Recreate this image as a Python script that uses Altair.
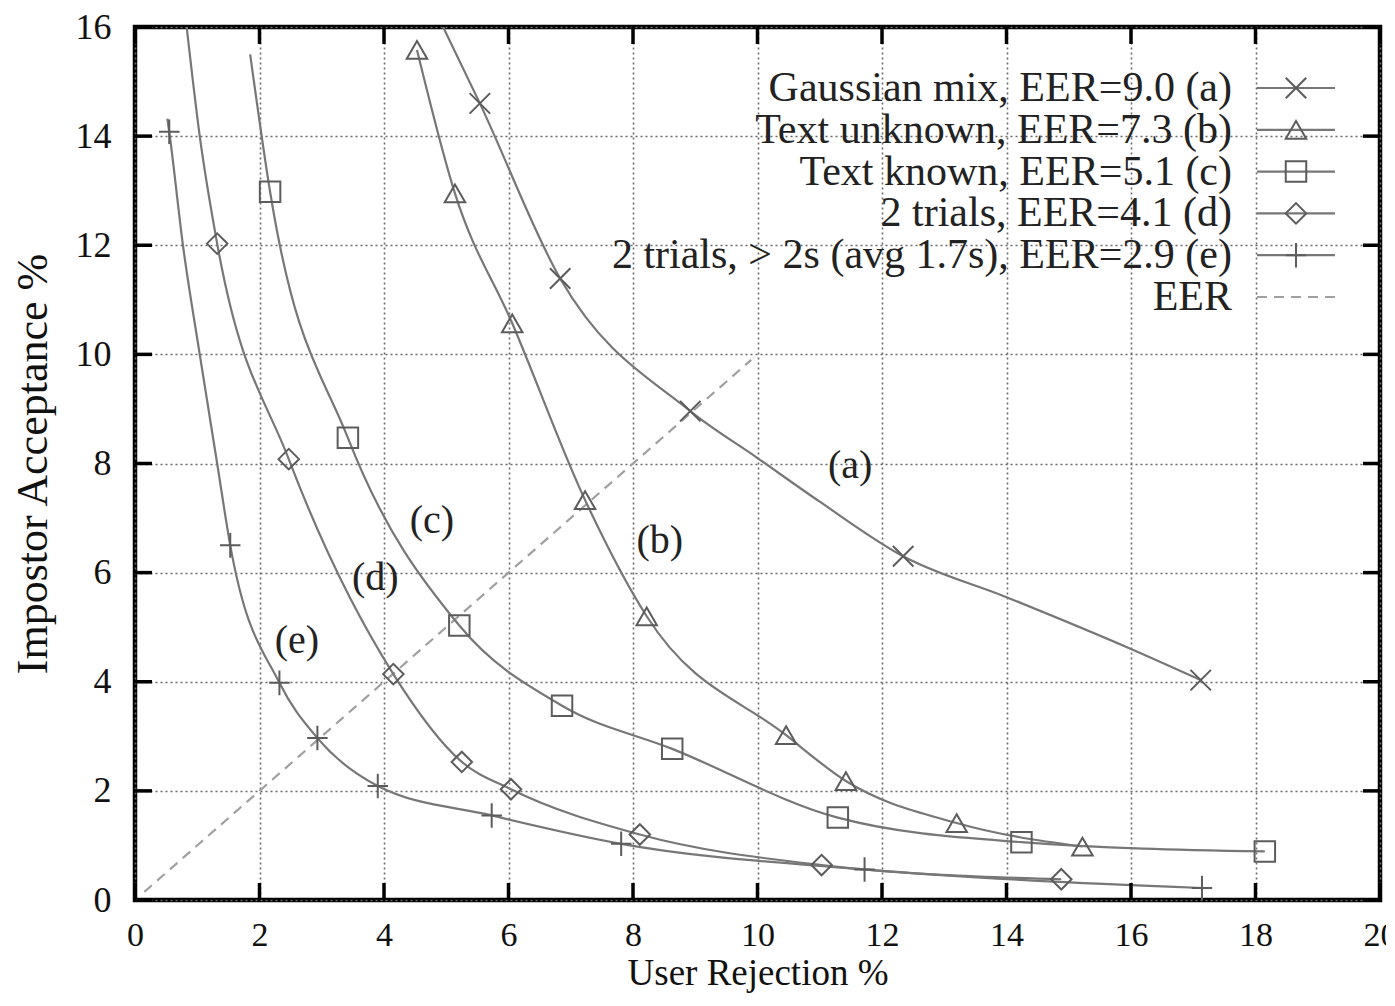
import altair as alt
import pandas as pd

# ---------------- data ----------------
x_ticks = [0, 2, 4, 6, 8, 10, 12, 14, 16, 18, 20]
y_ticks = [0, 2, 4, 6, 8, 10, 12, 14, 16]

# (a) Gaussian mix – markers and curve
a_x = [5.54, 6.83, 8.92, 12.34, 17.12]
a_y = [14.60, 11.39, 8.96, 6.30, 4.03]
a_lx = [4.95, 5.54, 6.83, 8.92, 10.00, 11.00, 12.34, 14.00, 16.00, 17.12]
a_ly = [16.00, 14.60, 11.39, 8.96, 8.10, 7.30, 6.30, 5.55, 4.60, 4.03]

# (b) Text unknown
b_x = [4.53, 5.14, 6.06, 7.23, 8.22, 10.46, 11.42, 13.20, 15.22]
b_y = [15.58, 12.95, 10.57, 7.33, 5.20, 3.02, 2.18, 1.41, 0.98]
b_lx = b_x
b_ly = b_y

# (c) Text known
c_x = [2.17, 3.42, 5.21, 6.86, 8.63, 11.29, 14.24, 18.15]
c_y = [12.98, 8.47, 5.03, 3.56, 2.77, 1.51, 1.06, 0.89]
c_lx = [1.85, 2.17, 3.42, 5.21, 6.86, 8.63, 11.29, 14.24, 18.15]
c_ly = [15.50, 12.98, 8.47, 5.03, 3.56, 2.77, 1.51, 1.06, 0.89]

# (d) 2 trials
d_x = [1.32, 2.47, 4.15, 5.25, 6.04, 8.11, 11.03, 14.88]
d_y = [12.03, 8.08, 4.14, 2.53, 2.03, 1.20, 0.64, 0.38]
d_lx = [0.83, 1.04, 1.32, 2.47, 4.15, 5.25, 6.04, 8.11, 11.03, 14.88]
d_ly = [16.00, 14.00, 12.03, 8.08, 4.14, 2.53, 2.03, 1.20, 0.64, 0.38]

# (e) 2 trials, > 2s
e_x = [0.55, 1.53, 2.32, 2.93, 3.90, 5.73, 7.81, 11.72, 17.14]
e_y = [14.08, 6.50, 3.98, 2.97, 2.09, 1.55, 1.03, 0.56, 0.22]
e_lx = [0.52, 0.55, 0.77, 1.04, 1.32, 1.53, 2.32, 2.93, 3.90, 5.73, 7.81, 11.72, 17.14]
e_ly = [14.32, 14.08, 12.00, 10.00, 8.00, 6.50, 3.98, 2.97, 2.09, 1.55, 1.03, 0.56, 0.22]

# EER diagonal
eer_x = [0.15, 9.90]
eer_y = [0.15, 9.90]

series_ids = ["a", "b", "c", "d", "e"]
legend_labels = [
    "Gaussian mix, EER=9.0 (a)",
    "Text unknown, EER=7.3 (b)",
    "Text known, EER=5.1 (c)",
    "2 trials, EER=4.1 (d)",
    "2 trials, > 2s (avg 1.7s), EER=2.9 (e)",
    "EER",
]
annot_text = ["(a)", "(b)", "(c)", "(d)", "(e)"]
annot_x = [11.49, 8.43, 4.77, 3.86, 2.60]
annot_y = [7.95, 6.58, 6.95, 5.90, 4.75]

# ---------------- styling ----------------
W, H = 1245, 873
XMAX, YMAX = 20, 16
FONT = "Liberation Serif"
LINE_COL = "#777777"
MARK_COL = "#5c5c5c"
EER_COL = "#a0a0a0"

SHAPES = {
    "a": "M-1,-1L1,1M-1,1L1,-1",          # x cross
    "b": "triangle-up",
    "c": "square",
    "d": "diamond",
    "e": "M-1,0L1,0M0,-1.2L0,1.2",        # plus
}

xs = alt.Scale(domain=[0, XMAX], nice=False, zero=False)
ys = alt.Scale(domain=[0, YMAX], nice=False, zero=False)
common_axis = dict(format="d", grid=True, ticks=False, domain=False,
                   labelFont=FONT, titleFont=FONT,
                   labelColor="#111111", titleColor="#111111", titleFontWeight="normal",
                   labelFlush=False, labelOverlap=False,
                   gridColor="#6a6a6a", gridDash=[2, 3], gridWidth=1.6)
xaxis = alt.Axis(values=x_ticks, title="User Rejection %", titleFontSize=37,
                 labelFontSize=34, labelPadding=18, titlePadding=3, **common_axis)
yaxis = alt.Axis(values=y_ticks, title="Impostor Acceptance %", titleFontSize=44,
                 labelFontSize=36, labelPadding=24, titlePadding=20, **common_axis)


def X(f):
    return alt.X(f, type="quantitative", scale=xs, axis=xaxis)


def Y(f):
    return alt.Y(f, type="quantitative", scale=ys, axis=yaxis)


# ---------------- tables ----------------
line_rows = []
for sid, lx, ly in zip(series_ids, [a_lx, b_lx, c_lx, d_lx, e_lx], [a_ly, b_ly, c_ly, d_ly, e_ly]):
    for i, (xv, yv) in enumerate(zip(lx, ly)):
        line_rows.append({"x": xv, "y": yv, "s": sid, "o": i})
lines_df = pd.DataFrame(line_rows)

pt_rows = []
for sid, px, py in zip(series_ids, [a_x, b_x, c_x, d_x, e_x], [a_y, b_y, c_y, d_y, e_y]):
    for xv, yv in zip(px, py):
        pt_rows.append({"x": xv, "y": yv, "s": sid, "shape": SHAPES[sid]})
pts_df = pd.DataFrame(pt_rows)

eer_df = pd.DataFrame({"x": eer_x, "y": eer_y})
annot_df = pd.DataFrame({"x": annot_x, "y": annot_y, "t": annot_text})


# legend placed in plot coordinates (converted from pixel layout)
def px2x(p):
    return p / W * XMAX


def px2y(p):
    return YMAX - p / H * YMAX


leg_top, leg_step = 61, 41.8
leg_rows = []
for i, lab in enumerate(legend_labels):
    yy = px2y(leg_top + i * leg_step)
    leg_rows.append({
        "t": lab, "y": yy,
        "xt": px2x(W - 148), "x1": px2x(W - 123), "x2": px2x(W - 45), "xm": px2x(W - 84),
        "shape": SHAPES[series_ids[i]] if i < 5 else "",
        "kind": "series" if i < 5 else "eer",
    })
leg_df = pd.DataFrame(leg_rows)

xt_df = pd.DataFrame({"x": x_ticks})
yt_df = pd.DataFrame({"y": y_ticks})

# ---------------- layers ----------------
eer_layer = alt.Chart(eer_df).mark_line(color=EER_COL, strokeWidth=2.2,
                                         strokeDash=[10, 7], clip=True).encode(
    x=X("x"), y=Y("y"))

curves = alt.Chart(lines_df).mark_line(color=LINE_COL, strokeWidth=2.2,
                                       interpolate="monotone", clip=True).encode(
    x=X("x"), y=Y("y"), detail="s:N", order="o:Q")

points = alt.Chart(pts_df).mark_point(filled=False, color=MARK_COL, strokeWidth=2.0,
                                      size=420, opacity=1, clip=True).encode(
    x=X("x"), y=Y("y"), shape=alt.Shape("shape:N", scale=None))

annots = alt.Chart(annot_df).mark_text(font=FONT, fontSize=40, color="#222222",
                                       align="center", baseline="middle").encode(
    x=X("x"), y=Y("y"), text="t:N")

leg_text = alt.Chart(leg_df).mark_text(font=FONT, fontSize=42, color="#222222",
                                       align="right", baseline="middle").encode(
    x=X("xt"), y=Y("y"), text="t:N")

leg_lines = alt.Chart(leg_df).transform_filter(alt.datum.kind == "series").mark_rule(
    color=LINE_COL, strokeWidth=2.2).encode(x=X("x1"), x2="x2", y=Y("y"))

leg_eer = alt.Chart(leg_df).transform_filter(alt.datum.kind == "eer").mark_rule(
    color=EER_COL, strokeWidth=2.2, strokeDash=[10, 7]).encode(x=X("x1"), x2="x2", y=Y("y"))

leg_pts = alt.Chart(leg_df).transform_filter(alt.datum.kind == "series").mark_point(
    filled=False, color=MARK_COL, strokeWidth=2.0, size=420, opacity=1).encode(
    x=X("xm"), y=Y("y"), shape=alt.Shape("shape:N", scale=None))

TL = 17
xt_bottom = alt.Chart(xt_df).mark_rule(color="black", strokeWidth=3.5).encode(
    x=X("x"), y=alt.value(H), y2=alt.value(H - TL))
xt_top = alt.Chart(xt_df).mark_rule(color="black", strokeWidth=3.5).encode(
    x=X("x"), y=alt.value(0), y2=alt.value(TL))
yt_left = alt.Chart(yt_df).mark_rule(color="black", strokeWidth=3.5).encode(
    y=Y("y"), x=alt.value(0), x2=alt.value(TL))
yt_right = alt.Chart(yt_df).mark_rule(color="black", strokeWidth=3.5).encode(
    y=Y("y"), x=alt.value(W), x2=alt.value(W - TL))

chart = alt.layer(
    eer_layer, curves, points, annots,
    leg_text, leg_lines, leg_eer, leg_pts,
    xt_bottom, xt_top, yt_left, yt_right,
).properties(
    width=W, height=H,
    padding={"left": 127, "top": 19, "right": 6, "bottom": 94},
    autosize=alt.AutoSizeParams(type="none"),
    background="white",
).configure_view(
    stroke="black", strokeWidth=4.5,
).configure_axis(
    labelFont=FONT, titleFont=FONT,
)

chart.save("out.html", embed_options={"renderer": "svg", "actions": False})
